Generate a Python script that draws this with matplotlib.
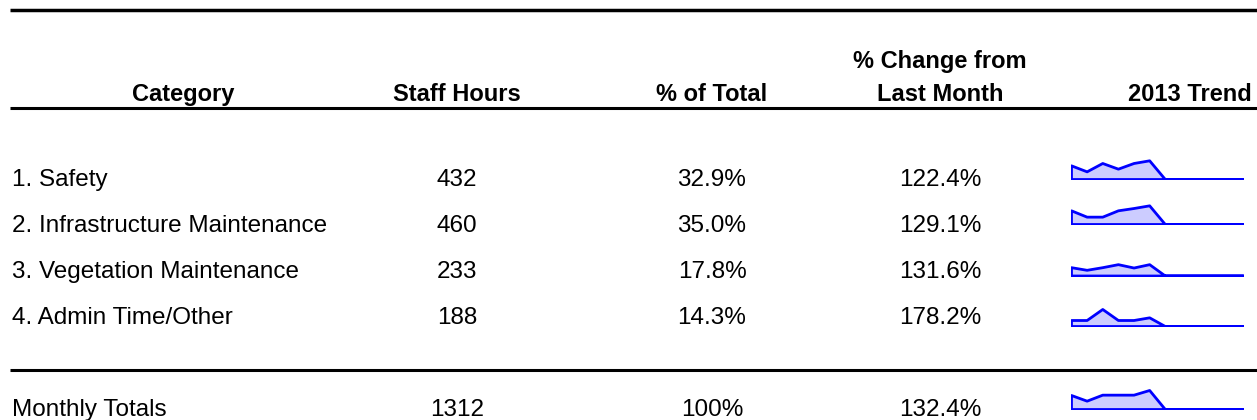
import matplotlib.pyplot as plt
import numpy as np

plt.rcParams['font.family'] = ['Liberation Sans', 'DejaVu Sans']

categories = ['1. Safety', '2. Infrastructure Maintenance', '3. Vegetation Maintenance',
              '4. Admin Time/Other']
staff_hours = ['432', '460', '233', '188']
pct_total = ['32.9%', '35.0%', '17.8%', '14.3%']
pct_change = ['122.4%', '129.1%', '131.6%', '178.2%']

total_label = 'Monthly Totals'
total_hours = '1312'
total_pct = '100%'
total_change = '132.4%'

months = ['Jan', 'Feb', 'Mar', 'Apr', 'May', 'Jun', 'Jul', 'Aug', 'Sep', 'Oct', 'Nov', 'Dec']
trend_safety = [316, 177, 370, 239, 370, 432, 0, 0, 0, 0, 0, 0]
trend_infra = [337, 181, 181, 337, 394, 460, 0, 0, 0, 0, 0, 0]
trend_veg = [171, 117, 171, 233, 164, 233, 0, 0, 0, 0, 0, 0]
trend_admin = [130, 130, 369, 130, 130, 188, 0, 0, 0, 0, 0, 0]
trend_total = [967, 575, 990, 990, 990, 1312, 0, 0, 0, 0, 0, 0]
trends = [trend_safety, trend_infra, trend_veg, trend_admin]

W, H = 1257, 420
fig = plt.figure(figsize=(W / 100, H / 100), dpi=100)
ax = fig.add_axes([0, 0, 1, 1])
ax.set_xlim(0, W)
ax.set_ylim(H, 0)
ax.axis('off')

col_x = [183, 457, 712, 940, 1190]
hdr = dict(fontsize=17, fontweight='bold', ha='center', va='baseline')
ax.text(col_x[0], 101, 'Category', **hdr)
ax.text(col_x[1], 101, 'Staff Hours', **hdr)
ax.text(col_x[2], 101, '% of Total', **hdr)
ax.text(col_x[3], 101, 'Last Month', **hdr)
ax.text(col_x[3], 68, '% Change from', **hdr)
ax.text(col_x[4], 101, '2013 Trend', **hdr)

ax.plot([10, W], [10, 10], color='black', lw=2.5, solid_capstyle='butt')
ax.plot([10, W], [108, 108], color='black', lw=2.2, solid_capstyle='butt')
ax.plot([10, W], [370, 370], color='black', lw=2.2, solid_capstyle='butt')

row_y = [180, 226, 272, 318]
base_y = [179, 224, 275.5, 326]
ymax = [578, 616, 514, 542]
body = dict(fontsize=17.5, va='center')

def sparkline(vals, base, top):
    # small axes in pixel units, baseline at "base"
    h = 25
    sax = fig.add_axes([1071 / W, (H - base) / H, (1243 - 1071) / W, h / H])
    x = np.arange(len(months))
    sax.fill_between(x, 0, vals, facecolor='#ccccff', edgecolor='#0000ff', lw=2)
    sax.set_xlim(0, len(months) - 1)
    sax.set_ylim(0, top)
    sax.axis('off')

for i, cat in enumerate(categories):
    y = row_y[i]
    ax.text(12, y, cat, ha='left', **body)
    ax.text(col_x[1], y, staff_hours[i], ha='center', **body)
    ax.text(col_x[2], y, pct_total[i], ha='center', **body)
    ax.text(col_x[3], y, pct_change[i], ha='center', **body)
    sparkline(trends[i], base_y[i], ymax[i])

yt = 410
ax.text(12, yt, total_label, ha='left', **body)
ax.text(col_x[1], yt, total_hours, ha='center', **body)
ax.text(col_x[2], yt, total_pct, ha='center', **body)
ax.text(col_x[3], yt, total_change, ha='center', **body)
sparkline(trend_total, 409, 1726)

fig.savefig('out.png', dpi=100)
